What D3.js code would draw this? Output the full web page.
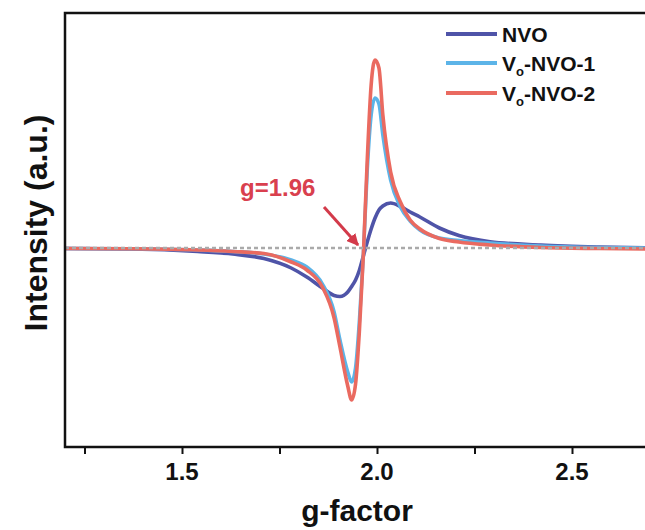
<!DOCTYPE html>
<html>
<head>
<meta charset="utf-8">
<script src="https://cdn.jsdelivr.net/npm/d3@7"></script>
<style>
  body { margin: 0; background: #fff; }
  text { font-family: Arial, "Liberation Sans", sans-serif; font-weight: bold; }
</style>
</head>
<body>
<svg id="chart" width="645" height="530"></svg>
<script>
// DATA //
var gFactor = [1.20, 1.37, 1.54, 1.63, 1.71, 1.78, 1.82, 1.86, 1.89, 1.905, 1.925, 1.935, 1.945, 1.955, 1.965,
               1.975, 1.985, 1.995, 2.005, 2.015, 2.035, 2.06, 2.085, 2.11, 2.16, 2.21, 2.29, 2.42, 2.57, 2.70]
var nvo = [-0.005, -0.01, -0.035, -0.06, -0.105, -0.20, -0.29, -0.40, -0.475, -0.485, -0.44, -0.385, -0.32, -0.22, -0.08,
           0.06, 0.19, 0.30, 0.38, 0.42, 0.45, 0.415, 0.36, 0.31, 0.20, 0.125, 0.063, 0.03, 0.01, 0.0]
var voNvo1 = [-0.005, -0.008, -0.02, -0.035, -0.06, -0.12, -0.19, -0.36, -0.64, -0.92, -1.24, -1.34, -1.20, -0.72, -0.07,
              0.78, 1.33, 1.50, 1.44, 1.13, 0.68, 0.41, 0.27, 0.18, 0.10, 0.075, 0.05, 0.02, 0.005, 0.0]
var voNvo2 = [-0.005, -0.008, -0.02, -0.035, -0.055, -0.14, -0.22, -0.39, -0.70, -0.99, -1.38, -1.52, -1.36, -0.82, -0.07,
              0.88, 1.63, 1.88, 1.80, 1.33, 0.76, 0.46, 0.28, 0.19, 0.095, 0.06, 0.03, 0.005, -0.005, -0.01]
var seriesNames = ['NVO', 'VO-NVO-1', 'VO-NVO-2']
var xTicks = [1.25, 1.5, 1.75, 2.0, 2.25, 2.5, 2.75]
var xLabels = [1.5, 2.0, 2.5]

var colors = ['#4F54A8', '#5CB4E8', '#EA6A60']

// SCALES //
var svg = d3.select('#chart')
var padL = 65, padR = 650, padT = 13, padB = 447

var x = d3.scaleLinear().domain([1.2, 2.7]).range([padL, padR])
var y = d3.scaleLinear().domain([-1.99, 2.35]).range([padB, padT])

var defs = svg.append('defs')
defs.append('clipPath').attr('id', 'plot')
  .append('rect').attr('x', padL).attr('y', padT).attr('width', padR - padL).attr('height', padB - padT)

// CURVES //
var line = d3.line()
  .x(function(d){ return x(d[0]) })
  .y(function(d){ return y(d[1]) })
  .curve(d3.curveMonotoneX)

var series = [nvo, voNvo1, voNvo2]
var g = svg.append('g').attr('clip-path', 'url(#plot)')
series.forEach(function(vals, i){
  g.append('path')
    .datum(gFactor.map(function(v, j){ return [v, vals[j]] }))
    .attr('d', line)
    .attr('fill', 'none')
    .attr('stroke', colors[i])
    .attr('stroke-width', 3.6)
    .attr('stroke-linejoin', 'round')
})

// zero line
g.append('line')
  .attr('x1', padL).attr('x2', padR)
  .attr('y1', y(0)).attr('y2', y(0))
  .attr('stroke', '#aaaaaa')
  .attr('stroke-width', 2.5)
  .attr('stroke-dasharray', '4,3')

// FRAME & AXIS //
svg.append('rect')
  .attr('x', padL).attr('y', padT)
  .attr('width', padR - padL).attr('height', padB - padT)
  .attr('fill', 'none').attr('stroke', '#111').attr('stroke-width', 2.5)

svg.append('g')
  .attr('transform', 'translate(0,' + padB + ')')
  .call(d3.axisBottom(x).tickValues(xTicks).tickSize(7).tickFormat(''))
  .call(function(a){
    a.select('.domain').remove()
    a.selectAll('line').attr('stroke', '#111').attr('stroke-width', 2)
  })

svg.selectAll('.xlab')
  .data(xLabels)
  .enter()
  .append('text')
  .attr('x', function(d){ return x(d) })
  .attr('y', 480)
  .attr('text-anchor', 'middle')
  .attr('font-size', 24)
  .attr('fill', '#111')
  .text(function(d){ return d.toFixed(1) })

svg.append('text')
  .attr('x', 357).attr('y', 521)
  .attr('text-anchor', 'middle')
  .attr('font-size', 30)
  .attr('fill', '#111')
  .text('g-factor')

svg.append('text')
  .attr('transform', 'translate(47,223) rotate(-90)')
  .attr('text-anchor', 'middle')
  .attr('font-size', 32)
  .attr('fill', '#111')
  .text('Intensity (a.u.)')

// ANNOTATION //
svg.append('text')
  .attr('x', 240).attr('y', 196)
  .attr('font-size', 24)
  .attr('fill', '#D9404E')
  .text('g=1.96')

defs.append('marker')
  .attr('id', 'arrow').attr('viewBox', '0 0 10 10')
  .attr('refX', 9).attr('refY', 5)
  .attr('markerWidth', 4).attr('markerHeight', 4)
  .attr('orient', 'auto')
  .append('path').attr('d', 'M0,0L10,5L0,10z').attr('fill', '#D33A4A')

svg.append('line')
  .attr('x1', 324).attr('y1', 207)
  .attr('x2', 358).attr('y2', 245)
  .attr('stroke', '#D33A4A').attr('stroke-width', 3)
  .attr('marker-end', 'url(#arrow)')

// LEGEND //
var legend = svg.append('g')
var rowsY = [34, 63, 93]
seriesNames.forEach(function(name, i){
  legend.append('line')
    .attr('x1', 446).attr('x2', 497)
    .attr('y1', rowsY[i]).attr('y2', rowsY[i])
    .attr('stroke', colors[i]).attr('stroke-width', 4)
  var t = legend.append('text')
    .attr('x', 502).attr('y', rowsY[i] + 8)
    .attr('font-size', 21)
    .attr('fill', '#111')
  if (name.indexOf('VO') === 0) {
    t.append('tspan').text('V')
    t.append('tspan').attr('font-size', 13).attr('dy', 5).text('o')
    t.append('tspan').attr('dy', -5).text(name.slice(2))
  } else {
    t.text(name)
  }
})
</script>
</body>
</html>
